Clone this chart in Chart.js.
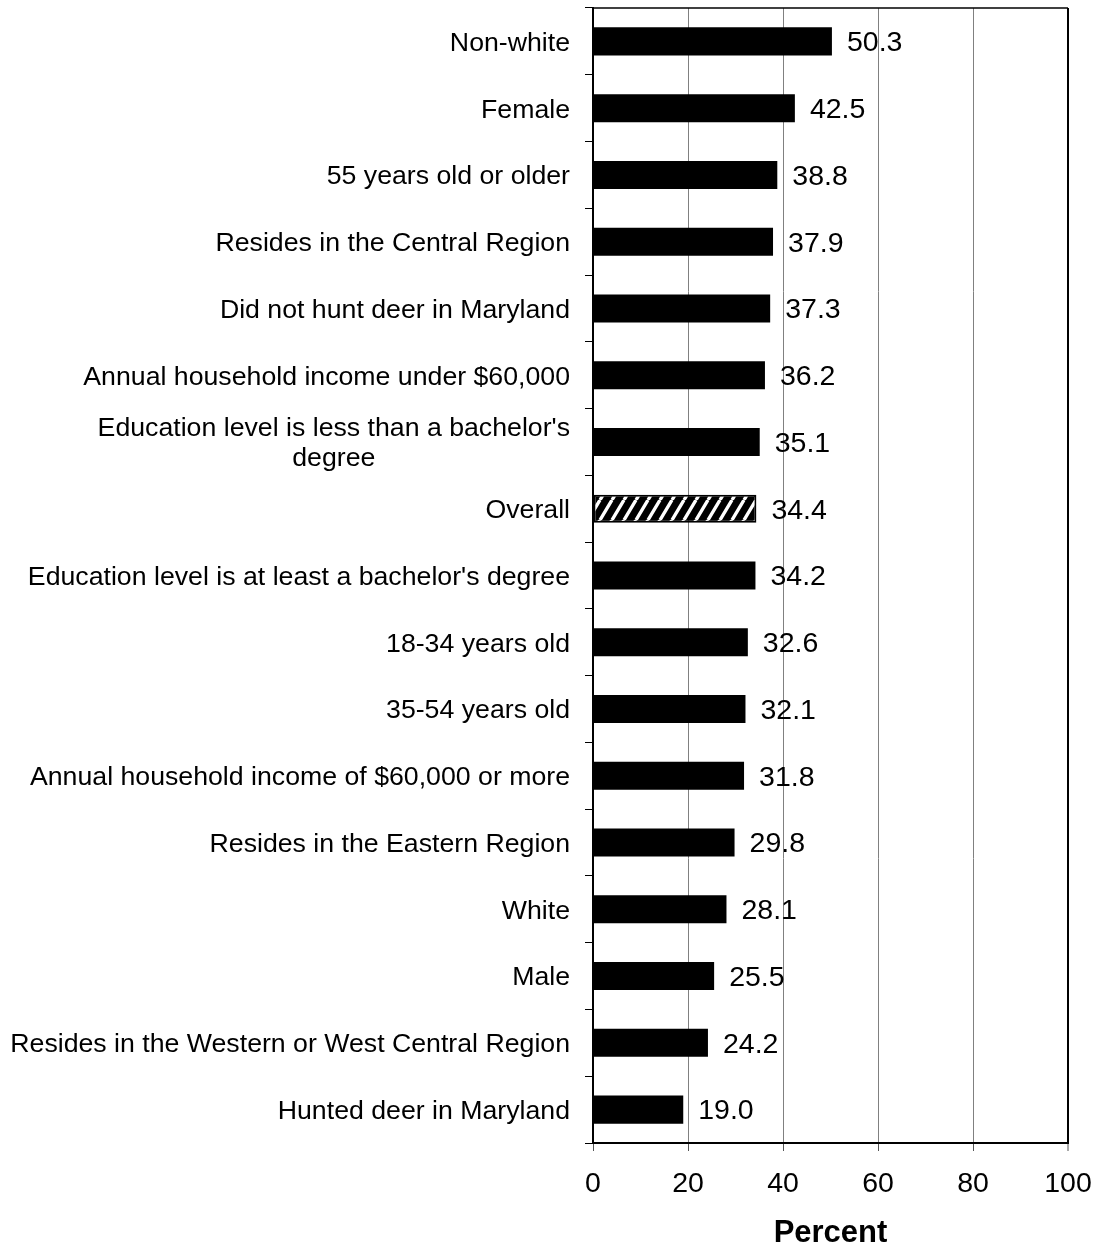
<!DOCTYPE html>
<html>
<head>
<meta charset="utf-8">
<script src="https://cdn.jsdelivr.net/npm/chart.js@4.4.1/dist/chart.umd.min.js"></script>
<style>
  html, body { margin:0; padding:0; background:#fff; }
</style>
</head>
<body>
<canvas id="chart" width="1097" height="1249"></canvas>
<script>
// DATA
const categories = [
  "Non-white",
  "Female",
  "55 years old or older",
  "Resides in the Central Region",
  "Did not hunt deer in Maryland",
  "Annual household income under $60,000",
  ["Education level is less than a bachelor's", "degree"],
  "Overall",
  "Education level is at least a bachelor's degree",
  "18-34 years old",
  "35-54 years old",
  "Annual household income of $60,000 or more",
  "Resides in the Eastern Region",
  "White",
  "Male",
  "Resides in the Western or West Central Region",
  "Hunted deer in Maryland"
];
const percents = [50.3, 42.5, 38.8, 37.9, 37.3, 36.2, 35.1, 34.4, 34.2, 32.6, 32.1, 31.8, 29.8, 28.1, 25.5, 24.2, 19.0];
const highlight = "Overall";
const axisMin = 0, axisMax = 100, axisStep = 20;
const axisTitle = "Percent";

const FONT = "'Liberation Sans', Arial, sans-serif";
const hiIndex = categories.indexOf(highlight);

// hatch fill for the "Overall" bar
const canvas = document.getElementById("chart");
function makeHatch() {
  const t = document.createElement("canvas");
  t.width = 12; t.height = 20;
  const g = t.getContext("2d");
  g.fillStyle = "#000";
  g.fillRect(0, 0, 12, 20);
  g.strokeStyle = "#fff";
  g.lineWidth = 3.4;
  g.beginPath();
  for (let k = -1; k <= 1; k++) {
    g.moveTo(k * 12, 20);
    g.lineTo(k * 12 + 12, 0);
  }
  g.stroke();
  return canvas.getContext("2d").createPattern(t, "repeat");
}
const hatch = makeHatch();

// category labels, value labels, top frame line
const textPlugin = {
  id: "textPlugin",
  afterDraw(chart) {
    const ctx = chart.ctx, y = chart.scales.y, area = chart.chartArea;
    ctx.save();
    ctx.fillStyle = "#000";
    ctx.textBaseline = "middle";

    ctx.font = "26.7px " + FONT;
    const right = area.left - 23;
    categories.forEach((c, i) => {
      const cy = y.getPixelForValue(i) + 2;
      if (Array.isArray(c)) {
        const w = Math.max(...c.map(s => ctx.measureText(s).width));
        ctx.textAlign = "center";
        c.forEach((s, k) => ctx.fillText(s, right - w / 2, cy + (k - (c.length - 1) / 2) * 30));
      } else {
        ctx.textAlign = "right";
        ctx.fillText(c, right, cy);
      }
    });

    ctx.font = "28.5px " + FONT;
    ctx.textAlign = "left";
    chart.getDatasetMeta(0).data.forEach((bar, i) => {
      ctx.fillText(percents[i].toFixed(1), bar.x + 15, bar.y + 2);
    });

    ctx.strokeStyle = "#000";
    ctx.lineWidth = 1.5;
    ctx.beginPath();
    ctx.moveTo(area.left, area.top);
    ctx.lineTo(area.right, area.top);
    ctx.stroke();
    ctx.restore();
  }
};

new Chart(canvas, {
  type: "bar",
  data: {
    labels: categories,
    datasets: [{
      data: percents,
      backgroundColor: c => c.dataIndex === hiIndex ? hatch : "#000",
      borderColor: "#000",
      borderWidth: c => c.dataIndex === hiIndex ? 2 : 0,
      borderSkipped: false,
      barPercentage: 0.42,
      categoryPercentage: 1
    }]
  },
  options: {
    indexAxis: "y",
    responsive: false,
    animation: false,
    layout: { padding: { left: 0, right: 29, top: 8, bottom: 0 } },
    plugins: { legend: { display: false }, tooltip: { enabled: false } },
    scales: {
      x: {
        min: axisMin, max: axisMax,
        ticks: { stepSize: axisStep, color: "#000", font: { size: 28.5, family: FONT }, padding: 16 },
        grid: {
          color: c => c.tick && c.tick.value === axisMax ? "#000" : "#808080",
          lineWidth: c => c.tick && c.tick.value === axisMax ? 2 : 1,
          tickLength: 8, tickColor: "#555", tickWidth: 1
        },
        border: { color: "#000", width: 2 },
        title: {
          display: true, text: axisTitle, color: "#000",
          font: { size: 31, weight: "bold", family: FONT, lineHeight: 1 },
          padding: { top: 0, bottom: 0 }
        },
        afterFit: s => { s.height = 106; s.paddingLeft = 0; s.paddingRight = 0; }
      },
      y: {
        ticks: { display: false },
        grid: { offset: true, drawOnChartArea: false, tickLength: 8, color: "#000", tickColor: "#000" },
        border: { color: "#000", width: 2 },
        afterFit: s => { s.width = 593; }
      }
    }
  },
  plugins: [textPlugin]
});
</script>
</body>
</html>
